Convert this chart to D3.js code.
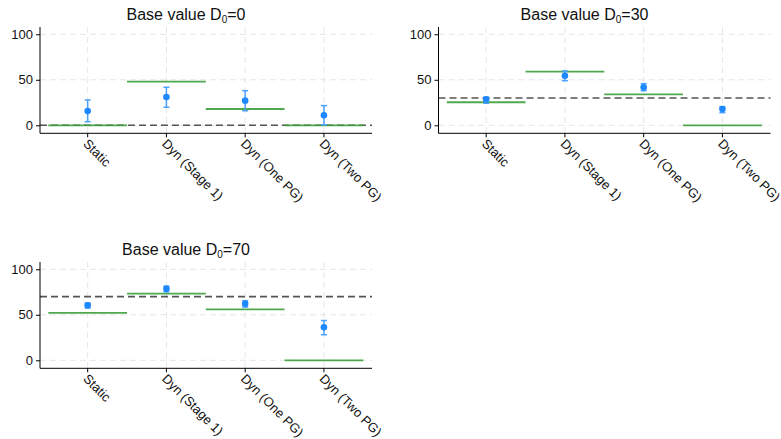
<!DOCTYPE html>
<html>
<head>
<meta charset="utf-8">
<script src="https://cdn.jsdelivr.net/npm/d3@7"></script>
<style>
  body { margin: 0; background: #fff; }
  text { font-family: "Liberation Sans", Arial, sans-serif; }
</style>
</head>
<body>
<div id="chart"></div>
<script>
// data
var categories = ["Static", "Dyn (Stage 1)", "Dyn (One PG)", "Dyn (Two PG)"];
var baseValues = [0, 30, 70];
var estimates = [
  [15.7, 31.1, 27.1, 11.0],
  [28.6, 54.5, 41.8, 17.9],
  [60.4, 78.5, 62.2, 36.3]
];
var lowerCI = [
  [4.0, 19.8, 16.0, 0.5],
  [24.2, 49.0, 38.0, 13.9],
  [57.4, 75.2, 58.5, 28.1]
];
var upperCI = [
  [27.8, 41.8, 38.0, 21.6],
  [30.8, 59.7, 45.7, 20.5],
  [63.0, 81.5, 65.5, 43.7]
];
var predicted = [
  [0, 47.9, 17.9, 0],
  [25.3, 58.9, 34.0, 0],
  [52.2, 73.3, 55.9, 0]
];
var yTicks = [0, 50, 100];

var width = 781, height = 439;
var svg = d3.select("#chart").append("svg")
  .attr("width", width).attr("height", height);

var offsets = [[0, 0], [398.5, 0], [0, 235]];

var x = d3.scaleBand().domain(categories).range([48.3, 363.3]).padding(0);
var y = d3.scaleLinear().domain([-8.8, 108]).range([133.3, 27]);
var left = 40, right = 372;

baseValues.forEach(function(base, p) {
  var g = svg.append("g")
    .attr("transform", "translate(" + offsets[p][0] + "," + offsets[p][1] + ")");

  // title
  var t = g.append("text")
    .attr("x", 186).attr("y", 20)
    .attr("text-anchor", "middle")
    .style("font-size", "16px").style("fill", "#111");
  t.append("tspan").text("Base value D");
  t.append("tspan").attr("dy", 3).style("font-size", "10px").text("0");
  t.append("tspan").attr("dy", -3).text("=" + base);

  // grid
  g.selectAll(".hgrid").data(yTicks).enter().append("line")
    .attr("x1", left).attr("x2", right)
    .attr("y1", function(d) { return y(d); })
    .attr("y2", function(d) { return y(d); })
    .attr("stroke", "#e6e6e6").attr("stroke-dasharray", "6,4");
  g.selectAll(".vgrid").data(categories).enter().append("line")
    .attr("x1", function(d) { return x(d) + x.bandwidth() / 2; })
    .attr("x2", function(d) { return x(d) + x.bandwidth() / 2; })
    .attr("y1", y.range()[1]).attr("y2", y.range()[0])
    .attr("stroke", "#e6e6e6").attr("stroke-dasharray", "6,4");

  // reference (base value) line
  g.append("line")
    .attr("x1", left).attr("x2", right)
    .attr("y1", y(base)).attr("y2", y(base))
    .attr("stroke", "#555").attr("stroke-width", 1.6)
    .attr("stroke-dasharray", "7,4");

  // predicted level per treatment
  g.selectAll(".pred").data(categories).enter().append("line")
    .attr("x1", function(d) { return x(d); })
    .attr("x2", function(d) { return x(d) + x.bandwidth(); })
    .attr("y1", function(d, i) { return y(predicted[p][i]); })
    .attr("y2", function(d, i) { return y(predicted[p][i]); })
    .attr("stroke", "#3c9f3c").attr("stroke-width", 1.8)
    .attr("stroke-opacity", 0.9);

  // error bars
  var eb = g.selectAll(".eb").data(categories).enter().append("g")
    .attr("stroke", "#4aa0ff").attr("stroke-width", 1.5);
  eb.append("line")
    .attr("x1", function(d) { return x(d) + x.bandwidth() / 2; })
    .attr("x2", function(d) { return x(d) + x.bandwidth() / 2; })
    .attr("y1", function(d, i) { return y(lowerCI[p][i]); })
    .attr("y2", function(d, i) { return y(upperCI[p][i]); });
  [lowerCI, upperCI].forEach(function(arr) {
    eb.append("line")
      .attr("x1", function(d) { return x(d) + x.bandwidth() / 2 - 3; })
      .attr("x2", function(d) { return x(d) + x.bandwidth() / 2 + 3; })
      .attr("y1", function(d, i) { return y(arr[p][i]); })
      .attr("y2", function(d, i) { return y(arr[p][i]); });
  });

  // point estimates
  g.selectAll(".pt").data(categories).enter().append("circle")
    .attr("cx", function(d) { return x(d) + x.bandwidth() / 2; })
    .attr("cy", function(d, i) { return y(estimates[p][i]); })
    .attr("r", 3.3)
    .attr("fill", "#1e88ff");

  // y axis
  var yAxis = d3.axisLeft(y).tickValues(yTicks).tickSize(4).tickPadding(3);
  var ya = g.append("g").attr("transform", "translate(" + left + ",0)").call(yAxis);
  ya.select(".domain").attr("d", "M0," + y.range()[1] + "V" + y.range()[0]);
  ya.selectAll("text").style("font-size", "13px").style("fill", "#111")
    .style("font-family", "'Liberation Sans', Arial, sans-serif");

  // x axis
  var xa = g.append("g").attr("transform", "translate(0," + y.range()[0] + ")")
    .call(d3.axisBottom(x).tickSize(4));
  xa.select(".domain").attr("d", "M" + left + ",0H" + right);
  xa.selectAll("text")
    .style("font-size", "13px").style("fill", "#111")
    .style("font-family", "'Liberation Sans', Arial, sans-serif")
    .attr("text-anchor", "start")
    .attr("x", 0).attr("y", 0).attr("dy", "0.35em")
    .attr("transform", "translate(-2,8) rotate(45)");
});
</script>
</body>
</html>
